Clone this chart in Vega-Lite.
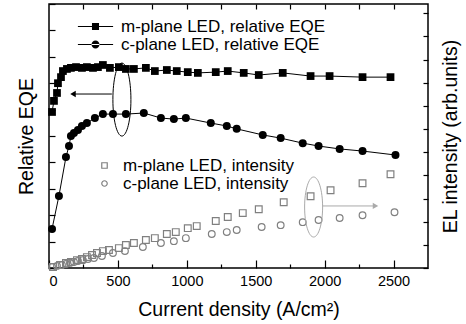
{
  "$schema": "https://vega.github.io/schema/vega-lite/v6.json",
  "width": 379,
  "height": 264,
  "autosize": {"type": "none"},
  "padding": {"left": 49, "top": 4, "right": 38, "bottom": 56},
  "config": {
    "font": "Liberation Sans",
    "view": {"stroke": "black", "strokeWidth": 1.5},
    "axis": {
      "labelFont": "Liberation Sans",
      "titleFont": "Liberation Sans",
      "titleFontWeight": "normal",
      "labelColor": "black",
      "titleColor": "black",
      "tickColor": "black",
      "tickWidth": 1.2,
      "grid": false,
      "domain": false
    },
    "legend": {"labelFont": "Liberation Sans", "labelColor": "black", "labelLimit": 300}
  },
  "datasets": {
    "eqe": [
      {"series": "m-plane LED, relative EQE", "j": 22, "v": 0.591},
      {"series": "m-plane LED, relative EQE", "j": 36, "v": 0.633},
      {"series": "m-plane LED, relative EQE", "j": 58, "v": 0.663},
      {"series": "m-plane LED, relative EQE", "j": 65, "v": 0.700},
      {"series": "m-plane LED, relative EQE", "j": 87, "v": 0.723},
      {"series": "m-plane LED, relative EQE", "j": 101, "v": 0.746},
      {"series": "m-plane LED, relative EQE", "j": 130, "v": 0.754},
      {"series": "m-plane LED, relative EQE", "j": 159, "v": 0.758},
      {"series": "m-plane LED, relative EQE", "j": 196, "v": 0.761},
      {"series": "m-plane LED, relative EQE", "j": 239, "v": 0.758},
      {"series": "m-plane LED, relative EQE", "j": 275, "v": 0.761},
      {"series": "m-plane LED, relative EQE", "j": 319, "v": 0.758},
      {"series": "m-plane LED, relative EQE", "j": 355, "v": 0.761},
      {"series": "m-plane LED, relative EQE", "j": 391, "v": 0.769},
      {"series": "m-plane LED, relative EQE", "j": 442, "v": 0.758},
      {"series": "m-plane LED, relative EQE", "j": 507, "v": 0.761},
      {"series": "m-plane LED, relative EQE", "j": 558, "v": 0.754},
      {"series": "m-plane LED, relative EQE", "j": 616, "v": 0.754},
      {"series": "m-plane LED, relative EQE", "j": 703, "v": 0.758},
      {"series": "m-plane LED, relative EQE", "j": 768, "v": 0.746},
      {"series": "m-plane LED, relative EQE", "j": 855, "v": 0.750},
      {"series": "m-plane LED, relative EQE", "j": 927, "v": 0.746},
      {"series": "m-plane LED, relative EQE", "j": 1007, "v": 0.742},
      {"series": "m-plane LED, relative EQE", "j": 1080, "v": 0.739},
      {"series": "m-plane LED, relative EQE", "j": 1210, "v": 0.742},
      {"series": "m-plane LED, relative EQE", "j": 1297, "v": 0.746},
      {"series": "m-plane LED, relative EQE", "j": 1413, "v": 0.739},
      {"series": "m-plane LED, relative EQE", "j": 1522, "v": 0.731},
      {"series": "m-plane LED, relative EQE", "j": 1696, "v": 0.739},
      {"series": "m-plane LED, relative EQE", "j": 1898, "v": 0.727},
      {"series": "m-plane LED, relative EQE", "j": 2036, "v": 0.727},
      {"series": "m-plane LED, relative EQE", "j": 2275, "v": 0.723},
      {"series": "m-plane LED, relative EQE", "j": 2478, "v": 0.723},
      {"series": "c-plane LED, relative EQE", "j": 22, "v": 0.148},
      {"series": "c-plane LED, relative EQE", "j": 72, "v": 0.273},
      {"series": "c-plane LED, relative EQE", "j": 123, "v": 0.420},
      {"series": "c-plane LED, relative EQE", "j": 145, "v": 0.462},
      {"series": "c-plane LED, relative EQE", "j": 159, "v": 0.500},
      {"series": "c-plane LED, relative EQE", "j": 181, "v": 0.511},
      {"series": "c-plane LED, relative EQE", "j": 210, "v": 0.523},
      {"series": "c-plane LED, relative EQE", "j": 239, "v": 0.538},
      {"series": "c-plane LED, relative EQE", "j": 275, "v": 0.549},
      {"series": "c-plane LED, relative EQE", "j": 333, "v": 0.568},
      {"series": "c-plane LED, relative EQE", "j": 391, "v": 0.583},
      {"series": "c-plane LED, relative EQE", "j": 464, "v": 0.583},
      {"series": "c-plane LED, relative EQE", "j": 558, "v": 0.583},
      {"series": "c-plane LED, relative EQE", "j": 688, "v": 0.587},
      {"series": "c-plane LED, relative EQE", "j": 812, "v": 0.568},
      {"series": "c-plane LED, relative EQE", "j": 906, "v": 0.564},
      {"series": "c-plane LED, relative EQE", "j": 993, "v": 0.568},
      {"series": "c-plane LED, relative EQE", "j": 1174, "v": 0.549},
      {"series": "c-plane LED, relative EQE", "j": 1290, "v": 0.538},
      {"series": "c-plane LED, relative EQE", "j": 1362, "v": 0.527},
      {"series": "c-plane LED, relative EQE", "j": 1551, "v": 0.504},
      {"series": "c-plane LED, relative EQE", "j": 1681, "v": 0.492},
      {"series": "c-plane LED, relative EQE", "j": 1841, "v": 0.473},
      {"series": "c-plane LED, relative EQE", "j": 1956, "v": 0.462},
      {"series": "c-plane LED, relative EQE", "j": 2109, "v": 0.451},
      {"series": "c-plane LED, relative EQE", "j": 2275, "v": 0.443},
      {"series": "c-plane LED, relative EQE", "j": 2514, "v": 0.428}
    ],
    "intensity": [
      {"series": "m-plane LED, intensity", "j": 29, "v": 0.04},
      {"series": "m-plane LED, intensity", "j": 80, "v": 0.13},
      {"series": "m-plane LED, intensity", "j": 123, "v": 0.22},
      {"series": "m-plane LED, intensity", "j": 159, "v": 0.26},
      {"series": "m-plane LED, intensity", "j": 203, "v": 0.34},
      {"series": "m-plane LED, intensity", "j": 239, "v": 0.39},
      {"series": "m-plane LED, intensity", "j": 275, "v": 0.47},
      {"series": "m-plane LED, intensity", "j": 312, "v": 0.56},
      {"series": "m-plane LED, intensity", "j": 348, "v": 0.65},
      {"series": "m-plane LED, intensity", "j": 391, "v": 0.73},
      {"series": "m-plane LED, intensity", "j": 435, "v": 0.78},
      {"series": "m-plane LED, intensity", "j": 507, "v": 0.86},
      {"series": "m-plane LED, intensity", "j": 558, "v": 0.99},
      {"series": "m-plane LED, intensity", "j": 616, "v": 1.08},
      {"series": "m-plane LED, intensity", "j": 703, "v": 1.21},
      {"series": "m-plane LED, intensity", "j": 768, "v": 1.29},
      {"series": "m-plane LED, intensity", "j": 855, "v": 1.47},
      {"series": "m-plane LED, intensity", "j": 920, "v": 1.55},
      {"series": "m-plane LED, intensity", "j": 1007, "v": 1.72},
      {"series": "m-plane LED, intensity", "j": 1072, "v": 1.81},
      {"series": "m-plane LED, intensity", "j": 1210, "v": 2.03},
      {"series": "m-plane LED, intensity", "j": 1297, "v": 2.20},
      {"series": "m-plane LED, intensity", "j": 1406, "v": 2.37},
      {"series": "m-plane LED, intensity", "j": 1522, "v": 2.54},
      {"series": "m-plane LED, intensity", "j": 1703, "v": 2.84},
      {"series": "m-plane LED, intensity", "j": 1898, "v": 3.10},
      {"series": "m-plane LED, intensity", "j": 2043, "v": 3.36},
      {"series": "m-plane LED, intensity", "j": 2275, "v": 3.66},
      {"series": "m-plane LED, intensity", "j": 2478, "v": 4.05},
      {"series": "c-plane LED, intensity", "j": 22, "v": 0.04},
      {"series": "c-plane LED, intensity", "j": 58, "v": 0.09},
      {"series": "c-plane LED, intensity", "j": 94, "v": 0.13},
      {"series": "c-plane LED, intensity", "j": 123, "v": 0.17},
      {"series": "c-plane LED, intensity", "j": 152, "v": 0.22},
      {"series": "c-plane LED, intensity", "j": 181, "v": 0.26},
      {"series": "c-plane LED, intensity", "j": 210, "v": 0.30},
      {"series": "c-plane LED, intensity", "j": 246, "v": 0.34},
      {"series": "c-plane LED, intensity", "j": 283, "v": 0.39},
      {"series": "c-plane LED, intensity", "j": 326, "v": 0.43},
      {"series": "c-plane LED, intensity", "j": 384, "v": 0.52},
      {"series": "c-plane LED, intensity", "j": 464, "v": 0.65},
      {"series": "c-plane LED, intensity", "j": 551, "v": 0.73},
      {"series": "c-plane LED, intensity", "j": 681, "v": 0.91},
      {"series": "c-plane LED, intensity", "j": 812, "v": 1.08},
      {"series": "c-plane LED, intensity", "j": 906, "v": 1.16},
      {"series": "c-plane LED, intensity", "j": 993, "v": 1.29},
      {"series": "c-plane LED, intensity", "j": 1181, "v": 1.47},
      {"series": "c-plane LED, intensity", "j": 1290, "v": 1.55},
      {"series": "c-plane LED, intensity", "j": 1362, "v": 1.64},
      {"series": "c-plane LED, intensity", "j": 1543, "v": 1.77},
      {"series": "c-plane LED, intensity", "j": 1681, "v": 1.85},
      {"series": "c-plane LED, intensity", "j": 1841, "v": 1.98},
      {"series": "c-plane LED, intensity", "j": 1956, "v": 2.07},
      {"series": "c-plane LED, intensity", "j": 2109, "v": 2.16},
      {"series": "c-plane LED, intensity", "j": 2275, "v": 2.28},
      {"series": "c-plane LED, intensity", "j": 2507, "v": 2.41}
    ],
    "notes": [
      {"name": "eqe", "j": 529, "v": 0.638, "j1": 456, "j2": 174, "va": 0.659},
      {"name": "intensity", "j": 1920, "v": 0.231, "j1": 1985, "j2": 2369, "va": 0.235}
    ]
  },
  "resolve": {
    "scale": {"y": "independent", "shape": "independent"},
    "axis": {"x": "independent", "y": "independent"}
  },
  "layer": [
    {
      "data": {"name": "eqe"},
      "mark": {"type": "line", "color": "black", "strokeWidth": 1},
      "encoding": {
        "x": {
          "field": "j", "type": "quantitative",
          "scale": {"domain": [0, 2750], "nice": false, "zero": false},
          "axis": {
            "orient": "bottom",
            "values": [0, 250, 500, 750, 1000, 1250, 1500, 1750, 2000, 2250, 2500],
            "labelExpr": "datum.value % 500 === 0 ? datum.label : ''",
            "format": "d",
            "tickSize": {"condition": {"test": "datum.value % 500 === 0", "value": -8}, "value": -4},
            "labelPadding": 14,
            "labelFontSize": 14.5,
            "title": "Current density (A/cm²)",
            "titleFontSize": 19.5,
            "titlePadding": 13
          }
        },
        "y": {
          "field": "v", "type": "quantitative",
          "scale": {"domain": [0, 1], "nice": false, "zero": false},
          "axis": {
            "orient": "left",
            "values": [0, 0.1, 0.2, 0.3, 0.4, 0.5, 0.6, 0.7, 0.8, 0.9, 1],
            "labels": false,
            "tickSize": -6,
            "title": "Relative EQE",
            "titleFontSize": 19.5,
            "titlePadding": 12
          }
        },
        "detail": {"field": "series"}
      }
    },
    {
      "data": {"name": "eqe"},
      "transform": [{"filter": "datum.series === 'm-plane LED, relative EQE'"}],
      "mark": {"type": "point", "shape": "square", "filled": true, "color": "black", "size": 60, "opacity": 1},
      "encoding": {
        "x": {
          "field": "j", "type": "quantitative",
          "scale": {"domain": [0, 2750], "nice": false, "zero": false},
          "axis": {
            "orient": "top",
            "values": [250, 500, 750, 1000, 1250, 1500, 1750, 2000, 2250, 2500],
            "labels": false,
            "tickSize": -5,
            "title": null
          }
        },
        "y": {"field": "v", "type": "quantitative", "scale": {"domain": [0, 1], "nice": false, "zero": false}, "axis": null}
      }
    },
    {
      "data": {"name": "eqe"},
      "transform": [{"filter": "datum.series === 'c-plane LED, relative EQE'"}],
      "mark": {"type": "point", "shape": "circle", "filled": true, "color": "black", "size": 64, "opacity": 1},
      "encoding": {
        "x": {"field": "j", "type": "quantitative", "scale": {"domain": [0, 2750], "nice": false, "zero": false}, "axis": null},
        "y": {"field": "v", "type": "quantitative", "scale": {"domain": [0, 1], "nice": false, "zero": false}, "axis": null}
      }
    },
    {
      "data": {"name": "eqe"},
      "mark": {"type": "point", "filled": true, "color": "black", "opacity": 0, "size": 64},
      "encoding": {
        "x": {"field": "j", "type": "quantitative", "scale": {"domain": [0, 2750], "nice": false, "zero": false}, "axis": null},
        "y": {"field": "v", "type": "quantitative", "scale": {"domain": [0, 1], "nice": false, "zero": false}, "axis": null},
        "shape": {
          "field": "series", "type": "nominal",
          "scale": {
            "domain": ["m-plane LED, relative EQE", "c-plane LED, relative EQE"],
            "range": [
              "M -4.4 -0.13 L 4.4 -0.13 L 4.4 0.13 L -4.4 0.13 Z M -0.88 -0.88 L 0.88 -0.88 L 0.88 0.88 L -0.88 0.88 Z",
              "M -4.4 -0.13 L 4.4 -0.13 L 4.4 0.13 L -4.4 0.13 Z M -1 0 A 1 1 0 1 0 1 0 A 1 1 0 1 0 -1 0 Z"
            ]
          },
          "legend": {
            "orient": "none",
            "legendX": 38,
            "legendY": 14,
            "title": null,
            "padding": 0,
            "symbolSize": 64,
            "symbolOpacity": 1,
            "symbolFillColor": "black",
            "symbolStrokeWidth": 0,
            "labelFontSize": 17,
            "labelOffset": 17,
            "rowPadding": 0
          }
        }
      }
    },
    {
      "data": {"name": "intensity"},
      "mark": {"type": "point", "filled": false, "color": "#808080", "strokeWidth": 1.2, "size": 45, "opacity": 1},
      "encoding": {
        "x": {"field": "j", "type": "quantitative", "scale": {"domain": [0, 2750], "nice": false, "zero": false}, "axis": null},
        "y": {
          "field": "v", "type": "quantitative",
          "scale": {"domain": [0, 11.4], "nice": false, "zero": false},
          "axis": {
            "orient": "right",
            "values": [0, 1, 2, 3, 4, 5, 6, 7, 8, 9, 10, 11],
            "labels": false,
            "tickSize": -5,
            "title": "EL intensity (arb.units)",
            "titleAngle": 270,
            "titleBaseline": "top",
            "titleFontSize": 19.5,
            "titlePadding": 13
          }
        },
        "shape": {
          "field": "series", "type": "nominal",
          "scale": {
            "domain": ["m-plane LED, intensity", "c-plane LED, intensity"],
            "range": ["square", "circle"]
          },
          "legend": {
            "orient": "none",
            "legendX": 47,
            "legendY": 153,
            "title": null,
            "padding": 0,
            "symbolSize": 30,
            "symbolStrokeWidth": 1.2,
            "labelFontSize": 17,
            "labelOffset": 10,
            "rowPadding": 0
          }
        }
      }
    },
    {
      "data": {"name": "notes"},
      "transform": [{"filter": "datum.name === 'eqe'"}],
      "mark": {"type": "point", "shape": "M -0.247 0 A 0.247 1 0 1 0 0.247 0 A 0.247 1 0 1 0 -0.247 0 Z", "size": 5329, "filled": false, "color": "black", "strokeWidth": 1, "opacity": 1},
      "encoding": {
        "x": {"field": "j", "type": "quantitative", "scale": {"domain": [0, 2750], "nice": false, "zero": false}, "axis": null},
        "y": {"field": "v", "type": "quantitative", "scale": {"domain": [0, 1], "nice": false, "zero": false}, "axis": null}
      }
    },
    {
      "data": {"name": "notes"},
      "transform": [{"filter": "datum.name === 'intensity'"}],
      "mark": {"type": "point", "shape": "M -0.3 0 A 0.3 1 0 1 0 0.3 0 A 0.3 1 0 1 0 -0.3 0 Z", "size": 3600, "filled": false, "color": "#aaaaaa", "strokeWidth": 1, "opacity": 1},
      "encoding": {
        "x": {"field": "j", "type": "quantitative", "scale": {"domain": [0, 2750], "nice": false, "zero": false}, "axis": null},
        "y": {"field": "v", "type": "quantitative", "scale": {"domain": [0, 1], "nice": false, "zero": false}, "axis": null}
      }
    },
    {
      "data": {"name": "notes"},
      "mark": {"type": "rule", "strokeWidth": 1},
      "encoding": {
        "x": {"field": "j1", "type": "quantitative", "scale": {"domain": [0, 2750], "nice": false, "zero": false}, "axis": null},
        "x2": {"field": "j2"},
        "y": {"field": "va", "type": "quantitative", "scale": {"domain": [0, 1], "nice": false, "zero": false}, "axis": null},
        "color": {"field": "name", "type": "nominal", "scale": {"domain": ["eqe", "intensity"], "range": ["black", "#aaaaaa"]}, "legend": null}
      }
    },
    {
      "data": {"name": "notes"},
      "mark": {"type": "point", "filled": true, "size": 40, "opacity": 1},
      "encoding": {
        "x": {"field": "j2", "type": "quantitative", "scale": {"domain": [0, 2750], "nice": false, "zero": false}, "axis": null},
        "y": {"field": "va", "type": "quantitative", "scale": {"domain": [0, 1], "nice": false, "zero": false}, "axis": null},
        "color": {"field": "name", "type": "nominal", "scale": {"domain": ["eqe", "intensity"], "range": ["black", "#aaaaaa"]}, "legend": null},
        "shape": {"field": "name", "type": "nominal", "scale": {"domain": ["eqe", "intensity"], "range": ["triangle-left", "triangle-right"]}, "legend": null}
      }
    }
  ]
}
